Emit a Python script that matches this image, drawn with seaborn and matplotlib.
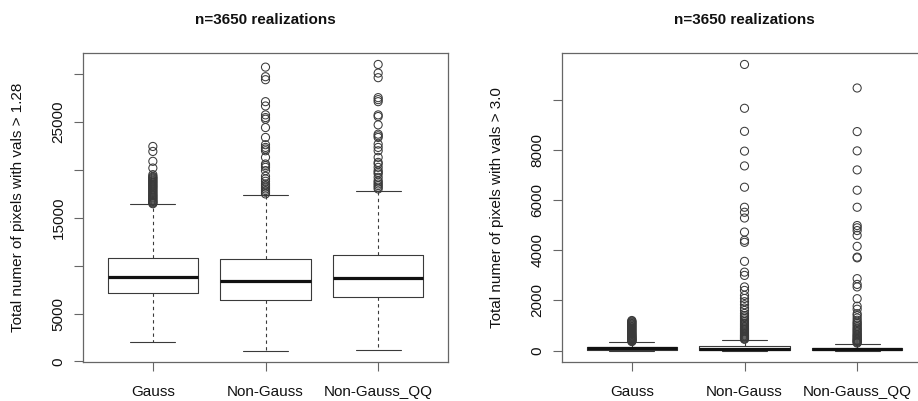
import numpy as np
import pandas as pd
import matplotlib
matplotlib.use("Agg")
import matplotlib.pyplot as plt
import seaborn as sns

sns.set_theme(style="white")
plt.rcParams["font.family"] = ["Liberation Sans", "DejaVu Sans"]

groups = ["Gauss", "Non-Gauss", "Non-Gauss_QQ"]
title = "n=3650 realizations"

# ---- threshold 1.28 ----
lo_q1 = [7090, 6400, 6680]
lo_med = [8820, 8440, 8690]
lo_q3 = [10800, 10730, 11110]
lo_whislo = [2010, 1140, 1210]
lo_whishi = [16400, 17370, 17820]
lo_out_gauss = [16450, 16520, 16600, 16680, 16760, 16850, 16950, 17050, 17130,
                17240, 17330, 17420, 17540, 17640, 17750, 17860, 17960, 18080,
                18170, 18280, 18370, 18480, 18580, 18690, 18790, 18890, 19000,
                19100, 19200, 19300, 19480, 20170, 20870, 21900, 22420]
lo_out_ng = [17470, 17650, 17820, 17990, 18170, 18340, 18510, 18790, 19030,
             19310, 19900, 20240, 20420, 20590, 21280, 21970, 22150, 22320,
             22600, 23360, 24390, 25260, 25430, 25710, 26640, 27090, 29380,
             29690, 30690]
lo_out_ngqq = [17990, 18170, 18340, 18510, 18690, 18860, 19200, 19550, 19720,
               19900, 20240, 20590, 20760, 21280, 21970, 22320, 22660, 23360,
               23530, 23700, 24670, 25540, 25710, 27090, 27300, 27510, 29590,
               30070, 30970]
lo_ticks = [0, 5000, 10000, 15000, 20000, 25000, 30000]
lo_ticklabels = ["0", "5000", "", "15000", "", "25000", ""]

# ---- threshold 3.0 ----
hi_q1 = [30, 20, 10]
hi_med = [85, 70, 45]
hi_q3 = [160, 185, 120]
hi_whislo = [0, 0, 0]
hi_whishi = [350, 440, 280]
hi_out_gauss = [360, 375, 390, 410, 425, 445, 460, 480, 500, 520, 545, 565, 590,
                610, 640, 665, 690, 720, 750, 780, 810, 840, 870, 900, 930, 960,
                990, 1020, 1050, 1080, 1110, 1140, 1170, 1200]
hi_out_ng = [450, 470, 500, 530, 560, 590, 620, 660, 700, 740, 780, 820, 860,
             900, 950, 1000, 1050, 1100, 1160, 1220, 1280, 1340, 1400, 1480,
             1600, 1700, 1830, 1950, 2080, 2200, 2400, 2540, 3000, 3130, 3560,
             4320, 4400, 4730, 5290, 5520, 5720, 6520, 7370, 7960, 8750, 9670,
             11420]
hi_out_ngqq = [300, 330, 360, 390, 420, 450, 490, 530, 570, 610, 650, 700, 750,
               800, 850, 900, 960, 1020, 1080, 1130, 1210, 1300, 1400, 1470,
               1650, 1770, 2070, 2540, 2640, 2870, 3700, 3730, 4160, 4600, 4790,
               4900, 4990, 5720, 6400, 7210, 7970, 8740, 10480]
hi_ticks = [0, 2000, 4000, 6000, 8000, 10000]
hi_ticklabels = ["0", "2000", "4000", "6000", "8000", ""]

FRAME = "#666666"
LINE = "#3a3a3a"

fig = plt.figure(figsize=(9.18, 4.01), dpi=100)
W, H = 918, 401
ax_l = fig.add_axes([83 / W, 1 - 362 / H, 365 / W, 309 / H])
ax_r = fig.add_axes([562 / W, 1 - 362 / H, 365 / W, 309 / H])


def draw_panel(ax, q1, med, q3, wlo, whi, outliers, ticks, ticklabels, ylabel):
    stats = []
    for i, g in enumerate(groups):
        stats.append(dict(label=g, q1=q1[i], med=med[i], q3=q3[i],
                          whislo=wlo[i], whishi=whi[i], fliers=[]))
    pos = list(range(len(groups)))
    ax.bxp(stats, positions=pos, widths=0.8, capwidths=0.4, showfliers=False,
           patch_artist=False,
           boxprops=dict(color=LINE, linewidth=0.8),
           medianprops=dict(color="#111111", linewidth=2.3, solid_capstyle="butt"),
           whiskerprops=dict(color=LINE, linewidth=0.8, linestyle=(0, (3, 3))),
           capprops=dict(color=LINE, linewidth=0.8))

    rows = []
    for g, vals in zip(groups, outliers):
        for v in vals:
            rows.append((g, v))
    df = pd.DataFrame(rows, columns=["group", "value"])
    df["pos"] = df["group"].map({g: i for i, g in enumerate(groups)})
    sns.scatterplot(data=df, x="pos", y="value", ax=ax, marker="o", s=34,
                    facecolor="none", edgecolor=LINE, linewidth=0.75,
                    legend=False)

    allv = wlo + whi + [v for vals in outliers for v in vals]
    vmin, vmax = min(allv), max(allv)
    padv = 0.04 * (vmax - vmin)
    ax.set_ylim(vmin - padv, vmax + padv)
    ax.set_xlim(-0.62, len(groups) - 1 + 0.62)

    ax.set_xticks(pos)
    ax.set_xticklabels(groups)
    ax.set_yticks(ticks)
    ax.set_yticklabels(ticklabels, rotation=90, va="center")
    ax.tick_params(axis="both", direction="out", length=6.5, width=0.8,
                   color=FRAME, labelsize=11, labelcolor="#111111",
                   left=True, bottom=True)
    ax.tick_params(axis="x", pad=10)
    ax.tick_params(axis="y", pad=6)
    for sp in ax.spines.values():
        sp.set_visible(True)
        sp.set_color(FRAME)
        sp.set_linewidth(0.9)
    ax.set_xlabel("")
    ax.set_ylabel(ylabel, fontsize=11, color="#111111")
    ax.yaxis.set_label_coords(-0.158, 0.5)
    ax.set_title(title, fontsize=11, fontweight="bold", pad=21, color="#111111")
    ax.grid(False)


draw_panel(ax_l, lo_q1, lo_med, lo_q3, lo_whislo, lo_whishi,
           [lo_out_gauss, lo_out_ng, lo_out_ngqq], lo_ticks, lo_ticklabels,
           "Total numer of pixels with vals > 1.28")
draw_panel(ax_r, hi_q1, hi_med, hi_q3, hi_whislo, hi_whishi,
           [hi_out_gauss, hi_out_ng, hi_out_ngqq], hi_ticks, hi_ticklabels,
           "Total numer of pixels with vals > 3.0")

fig.savefig("out.png", dpi=100, facecolor="white")
